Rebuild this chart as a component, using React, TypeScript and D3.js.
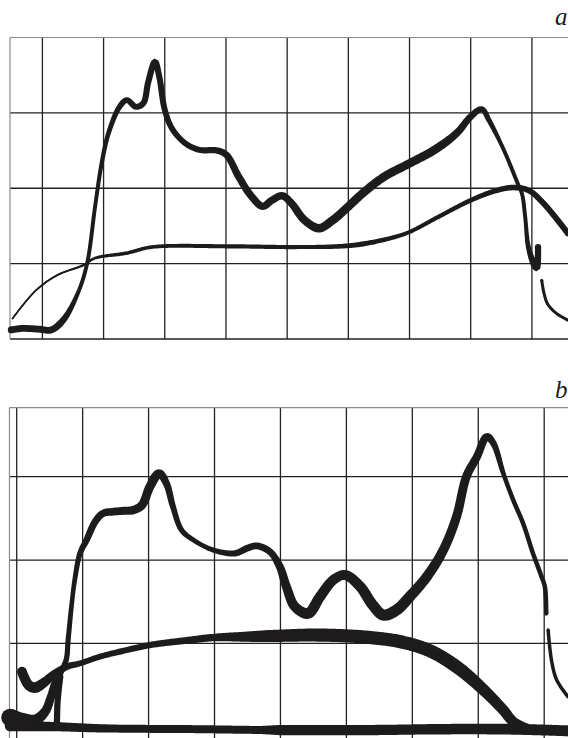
import React, { useEffect, useRef } from "react";
import * as d3 from "d3";

type Pt = [number, number];

// grid lines (grid units)
const gridColsA = [0, 1, 2, 3, 4, 5, 6, 7, 8];
const gridRowsA = [0, 1, 2, 3];
const gridColsB = [0, 1, 2, 3, 4, 5, 6, 7, 8];
const gridRowsB = [0, 1, 2, 3];

// frame corner (left, top) of each panel, in grid units
const frameA: Pt = [-0.53, 4];
const frameB: Pt = [-0.11, 3.83];

const panelLabels = ["a", "b"];

// panel a — main curve
const curveA1: Pt[] = [
  [-0.51, 0.12], [-0.34, 0.14], [-0.05, 0.13], [0.14, 0.12], [0.34, 0.25], [0.58, 0.61],
  [0.73, 1.0], [0.86, 1.75], [0.96, 2.29], [1.08, 2.73], [1.26, 3.08], [1.38, 3.17],
  [1.53, 3.08], [1.65, 3.13], [1.73, 3.41], [1.84, 3.68], [1.91, 3.48], [2.0, 3.04],
  [2.12, 2.79], [2.33, 2.6], [2.56, 2.51], [2.86, 2.5], [3.01, 2.44], [3.21, 2.15],
  [3.42, 1.89], [3.6, 1.76], [3.75, 1.84], [3.92, 1.9], [4.07, 1.8], [4.28, 1.58],
  [4.52, 1.47], [4.75, 1.58], [4.99, 1.75], [5.23, 1.93], [5.58, 2.15], [6.0, 2.33],
  [6.41, 2.51], [6.77, 2.73], [7.0, 2.95], [7.18, 3.05], [7.3, 2.9], [7.54, 2.51],
  [7.77, 2.06], [7.84, 1.92], [7.89, 1.62], [7.94, 1.23], [8.02, 1.02], [8.08, 0.94], [8.1, 1.22],
];
const curveA1Tail: Pt[] = [[8.16, 0.78], [8.2, 0.6], [8.26, 0.46], [8.4, 0.34], [8.59, 0.25]];
// panel a — second curve
const curveA2: Pt[] = [
  [-0.49, 0.27], [-0.1, 0.65], [0.25, 0.85], [0.67, 0.98], [0.85, 1.07], [1.38, 1.14],
  [1.79, 1.22], [3.0, 1.23], [4.04, 1.22], [4.87, 1.23], [5.23, 1.26], [5.7, 1.34],
  [6.0, 1.42], [6.47, 1.62], [7.0, 1.84], [7.42, 1.97], [7.71, 2.01], [7.95, 1.97],
  [8.19, 1.8], [8.59, 1.4],
];

// panel b — upper curve (starts with the bump on the base line)
const curveB1: Pt[] = [
  [-0.1, 0.11], [0.08, 0.08], [0.28, 0.08], [0.43, 0.18], [0.52, 0.36], [0.58, 0.52],
  [0.66, 0.64], [0.75, 0.8], [0.78, 1.04], [0.83, 1.44], [0.88, 1.76], [0.96, 2.08],
  [1.06, 2.24], [1.19, 2.46], [1.31, 2.56], [1.46, 2.58], [1.62, 2.59], [1.77, 2.6],
  [1.9, 2.66], [2.02, 2.88], [2.16, 3.04], [2.27, 2.92], [2.37, 2.64], [2.5, 2.36],
  [2.68, 2.24], [2.98, 2.12], [3.31, 2.08], [3.49, 2.14], [3.64, 2.17], [3.84, 2.1],
  [3.99, 1.92], [4.09, 1.68], [4.22, 1.44], [4.42, 1.36], [4.6, 1.56], [4.8, 1.76],
  [4.98, 1.82], [5.21, 1.68], [5.4, 1.46], [5.56, 1.34], [5.76, 1.4], [5.96, 1.56],
  [6.22, 1.8], [6.47, 2.12], [6.67, 2.52], [6.82, 3.0], [6.98, 3.24], [7.13, 3.48],
  [7.23, 3.4], [7.38, 3.04], [7.53, 2.72], [7.68, 2.44], [7.83, 2.08], [7.96, 1.8],
  [8.01, 1.68], [8.03, 1.36],
];
const curveB1Tail: Pt[] = [[8.06, 1.16], [8.11, 0.8], [8.19, 0.56], [8.36, 0.36]];
const curveB1Stem: Pt[] = [[0.61, 0.02], [0.62, 0.3], [0.66, 0.6]];
// panel b — middle hump
const curveB2: Pt[] = [
  [0.08, 0.66], [0.18, 0.5], [0.28, 0.47], [0.43, 0.54], [0.58, 0.64], [0.76, 0.72],
  [0.96, 0.76], [1.26, 0.84], [1.67, 0.92], [2.02, 0.98], [2.63, 1.04], [2.98, 1.07],
  [3.49, 1.08], [3.94, 1.09], [4.5, 1.1], [5.0, 1.09], [5.36, 1.07], [5.82, 1.02],
  [6.27, 0.91], [6.67, 0.72], [7.03, 0.48], [7.38, 0.2], [7.53, 0.06], [7.73, -0.02],
];
// panel b — base line
const curveB3: Pt[] = [
  [-0.1, 0.01], [0.6, 0.0], [1.3, -0.02], [2.8, -0.03], [3.8, -0.04], [5.4, -0.04],
  [6.4, -0.03], [7.5, -0.03], [8.36, -0.05],
];

const W = 568;
const H = 738;

export default function App() {
  const svgRef = useRef<SVGSVGElement>(null);

  useEffect(() => {
    const svg = d3.select(svgRef.current);
    svg.selectAll("*").remove();
    svg.append("rect").attr("width", W).attr("height", H).attr("fill", "#fff");

    const ink = "#1d1b1c";

    // pen width along x (pixels); ink spreads a bit so widths get a small boost
    const pen = (xs: number[], ws: number[]) =>
      d3.scaleLinear().domain(xs).range(ws.map(w => w * 1.15 + 0.5)).clamp(true);

    const grid = (g, x, y, cols, rows, frame: Pt, bottom) => {
      const left = x(frame[0]);
      const top = y(frame[1]);
      g.selectAll("line.v").data(cols).join("line").attr("class", "v")
        .attr("x1", d => x(d)).attr("x2", d => x(d))
        .attr("y1", top).attr("y2", bottom)
        .attr("stroke", "#222").attr("stroke-width", 1.3);
      g.selectAll("line.h").data(rows).join("line").attr("class", "h")
        .attr("x1", left).attr("x2", W)
        .attr("y1", d => y(d)).attr("y2", d => y(d))
        .attr("stroke", "#222").attr("stroke-width", 1.3);
      g.append("line").attr("x1", left).attr("x2", left).attr("y1", top).attr("y2", bottom)
        .attr("stroke", "#8c8c8c").attr("stroke-width", 1.2);
      g.append("line").attr("x1", left).attr("x2", W).attr("y1", top).attr("y2", top)
        .attr("stroke", "#8c8c8c").attr("stroke-width", 1.2);
    };

    // variable-width ink stroke along a smooth curve
    const inkStroke = (g, pts: Pt[], x, y, widthAt) => {
      const line = d3.line<Pt>().x(d => x(d[0])).y(d => y(d[1]))
        .curve(d3.curveCatmullRom.alpha(0.5));
      const tmp = g.append("path").attr("d", line(pts)).attr("fill", "none");
      const node = tmp.node() as SVGPathElement;
      const L = node.getTotalLength();
      const n = Math.max(2, Math.ceil(L / 1.2));
      const s = d3.range(n + 1).map(i => node.getPointAtLength((L * i) / n));
      tmp.remove();
      const leftSide: [number, number][] = [];
      const rightSide: [number, number][] = [];
      s.forEach((p, i) => {
        const a = s[Math.max(0, i - 1)];
        const b = s[Math.min(n, i + 1)];
        const dx = b.x - a.x, dy = b.y - a.y;
        const len = Math.hypot(dx, dy) || 1;
        const hw = widthAt(x.invert(p.x)) / 2;
        leftSide.push([p.x - (dy / len) * hw, p.y + (dx / len) * hw]);
        rightSide.push([p.x + (dy / len) * hw, p.y - (dx / len) * hw]);
      });
      g.append("path")
        .attr("d", d3.line()([...leftSide, ...rightSide.reverse()]) + "Z")
        .attr("fill", ink);
      g.append("path").attr("d", line(pts)).attr("fill", "none")
        .attr("stroke", ink).attr("stroke-width", 1.5);
      [s[0], s[n]].forEach(p => {
        g.append("circle").attr("cx", p.x).attr("cy", p.y)
          .attr("r", widthAt(x.invert(p.x)) / 2).attr("fill", ink);
      });
    };

    // panel a
    const xA = d3.scaleLinear().domain([0, 8]).range([42.4, 531.9]);
    const yA = d3.scaleLinear().domain([0, 4]).range([339, 37.5]);
    const gA = svg.append("g");
    grid(gA, xA, yA, gridColsA, gridRowsA, frameA, yA(0));
    inkStroke(gA, curveA2, xA, yA,
      pen([-0.5, 0.5, 1.2, 3, 4.5, 5.2, 6, 7, 7.7, 8.6], [1.0, 1.3, 2.6, 3.2, 3.2, 4, 3, 3.6, 4.5, 4.8]));
    inkStroke(gA, curveA1, xA, yA,
      pen([-0.5, 0.3, 0.6, 0.9, 1.3, 1.8, 2.2, 2.8, 3.3, 4.0, 4.5, 5.5, 6.5, 7.1, 7.5, 7.9, 8.05, 8.1],
        [5.5, 5.5, 3, 3, 4.5, 5, 4.5, 5, 6, 6, 7, 7, 7, 5, 3, 3, 6, 5]));
    inkStroke(gA, curveA1Tail, xA, yA, pen([8, 9], [2.2, 2.2]));

    // panel b
    const xB = d3.scaleLinear().domain([0, 8]).range([16.7, 544.2]);
    const yB = d3.scaleLinear().domain([0, 3]).range([726.7, 476.7]);
    const gB = svg.append("g");
    grid(gB, xB, yB, gridColsB, gridRowsB, frameB, H);
    inkStroke(gB, curveB3, xB, yB,
      pen([-0.1, 0.6, 1.5, 3.7, 4.0, 6.0, 7.5, 8.4], [9, 7.5, 6.5, 6.5, 8.5, 8.5, 9, 9]));
    inkStroke(gB, curveB2, xB, yB,
      pen([0.08, 0.3, 0.6, 1.0, 2.0, 3.0, 3.8, 4.5, 5.3, 6.0, 6.7, 7.3, 7.7],
        [8, 9, 6, 4.5, 5, 6, 10, 11, 11, 11, 11, 9, 8]));
    inkStroke(gB, curveB1Stem, xB, yB, pen([0, 1], [5, 5]));
    inkStroke(gB, curveB1, xB, yB,
      pen([-0.1, 0.3, 0.5, 0.65, 0.85, 1.1, 1.6, 2.1, 2.4, 2.8, 3.5, 3.9, 4.1, 4.4, 4.9, 5.4, 5.7, 6.4, 6.9, 7.15, 7.4, 8.03],
        [15, 9, 7, 5, 3.5, 5.5, 6.5, 7.5, 4.5, 3.5, 5.5, 5.5, 7.5, 9, 8, 9, 9.5, 8, 7, 6, 3.5, 3.5]));
    inkStroke(gB, curveB1Tail, xB, yB, pen([8, 9], [2.6, 2.6]));

    // panel letters
    svg.selectAll("text.lbl").data(panelLabels).join("text").attr("class", "lbl")
      .attr("x", 555)
      .attr("y", (d, i) => (i === 0 ? 25 : 398))
      .attr("font-family", "'Liberation Serif', 'DejaVu Serif', serif")
      .attr("font-style", "italic")
      .attr("font-size", 25)
      .attr("fill", ink)
      .text(d => d);
  }, []);

  return (
    <div style={{ position: "absolute", left: 0, top: 0 }}>
      <svg ref={svgRef} width={W} height={H} style={{ display: "block" }} />
    </div>
  );
}
